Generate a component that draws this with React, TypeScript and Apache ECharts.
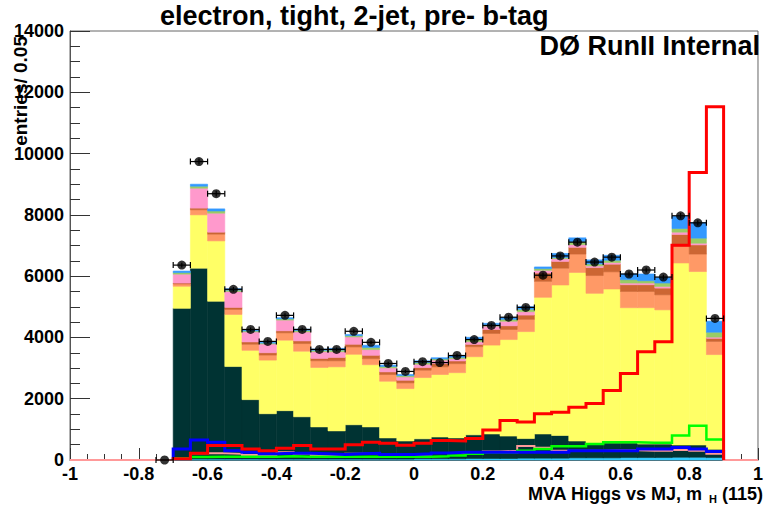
import React, { useEffect, useRef } from "react";
import * as echarts from "echarts";

// ---- histogram binning ----
const BIN_START = -0.7;
const BIN_WIDTH = 0.05;

// ---- stacked background components (per bin, 32 bins from -0.7 to 0.9) ----
const cyanBkg = [30, 30, 30, 30, 30, 30, 30, 30, 30, 30, 30, 30, 30, 30, 40, 40, 40, 50, 50, 50, 60, 60, 60, 70, 70, 70, 80, 80, 80, 90, 90, 80];
const tealBkg = [4920, 6230, 5150, 3020, 1940, 1480, 1580, 1380, 1050, 920, 1120, 1050, 690, 590, 650, 710, 680, 770, 800, 730, 640, 790, 740, 550, 450, 490, 480, 440, 440, 400, 400, 270];
const yellowBkg = [720, 1740, 1970, 1700, 1610, 1750, 2300, 2140, 1940, 2090, 2300, 2030, 1850, 1710, 2000, 2040, 2130, 2550, 2900, 3150, 3490, 4460, 4910, 5500, 4920, 5020, 4410, 4450, 4380, 5940, 5660, 3090];
const salmonBkg = [75, 165, 220, 165, 197, 164, 240, 250, 219, 197, 240, 197, 219, 186, 240, 250, 295, 328, 380, 330, 400, 520, 550, 600, 580, 560, 530, 530, 490, 550, 570, 430];
const brownBkg = [30, 55, 65, 65, 77, 77, 66, 87, 77, 110, 87, 110, 87, 87, 87, 110, 87, 77, 130, 120, 140, 270, 220, 220, 260, 250, 220, 220, 220, 380, 300, 100];
const pinkBkg = [290, 650, 620, 520, 328, 284, 350, 295, 219, 186, 240, 186, 131, 110, 110, 110, 77, 87, 110, 150, 110, 90, 90, 90, 55, 55, 55, 55, 55, 75, 55, 40];
const greenBkg = [50, 65, 70, 45, 30, 30, 40, 45, 45, 55, 40, 70, 45, 40, 55, 40, 45, 70, 45, 60, 80, 55, 40, 90, 65, 75, 110, 75, 110, 120, 165, 160];
const blueBkg = [50, 65, 70, 45, 25, 25, 37, 42, 42, 55, 37, 72, 42, 37, 55, 37, 42, 72, 45, 60, 85, 55, 130, 130, 130, 160, 185, 220, 185, 400, 510, 360];

// ---- overlaid (unstacked) histograms, same 32 bins ----
const redSignal = [40, 220, 470, 470, 360, 305, 380, 470, 360, 360, 500, 580, 550, 480, 550, 640, 620, 700, 980, 1290, 1240, 1510, 1560, 1720, 1840, 2270, 2820, 3530, 3860, 7010, 9380, 11530];
const blueLine = [360, 650, 580, 305, 250, 200, 220, 220, 200, 180, 200, 220, 180, 180, 200, 230, 250, 250, 250, 250, 250, 250, 250, 300, 300, 300, 300, 360, 360, 410, 360, 280];
const greenLine = [60, 100, 110, 110, 110, 110, 120, 110, 110, 110, 110, 110, 110, 110, 110, 120, 150, 200, 250, 250, 300, 360, 450, 450, 520, 580, 580, 560, 560, 800, 1120, 670];
const pinkLine = [60, 220, 220, 200, 160, 160, 250, 200, 160, 160, 200, 200, 160, 160, 180, 230, 220, 250, 280, 300, 460, 400, 300, 300, 300, 320, 320, 300, 300, 330, 300, 200];

// ---- data points (33 bins, starting at bin -0.75..-0.7) ----
const DATA_START = -0.75;
const dataVals = [0, 6360, 9740, 8690, 5570, 4260, 3870, 4720, 4260, 3610, 3610, 4200, 3840, 3150, 2890, 3210, 3180, 3410, 3930, 4390, 4660, 4980, 6030, 6660, 7110, 6460, 6620, 6070, 6200, 5970, 7970, 7740, 4620];

// ---- axis ticks ----
const xMin = -1, xMax = 1, xStep = 0.2;
const yMin = 0, yMax = 14000, yStep = 2000;

const FONT = '"Liberation Sans", Arial, Helvetica, sans-serif';

const layers = [
  { name: "cyan", color: "#33ccff", values: cyanBkg },
  { name: "teal", color: "#003333", values: tealBkg },
  { name: "yellow", color: "#ffff66", values: yellowBkg },
  { name: "salmon", color: "#ff9966", values: salmonBkg },
  { name: "brown", color: "#cc6633", values: brownBkg },
  { name: "pink", color: "#ff99cc", values: pinkBkg },
  { name: "green", color: "#99cc66", values: greenBkg },
  { name: "blue", color: "#3399ff", values: blueBkg },
];

function outline(vals: number[], extendFull: boolean) {
  const pts: number[][] = [];
  if (extendFull) pts.push([xMin, 0]);
  pts.push([BIN_START, 0]);
  vals.forEach((v, i) => {
    const x0 = BIN_START + i * BIN_WIDTH;
    pts.push([x0, v], [x0 + BIN_WIDTH, v]);
  });
  pts.push([BIN_START + vals.length * BIN_WIDTH, 0]);
  if (extendFull) pts.push([xMax, 0]);
  return pts;
}

export default function App() {
  const ref = useRef<HTMLDivElement>(null);
  useEffect(() => {
    document.body.style.margin = "0";
    if (!ref.current) return;
    const chart = echarts.init(ref.current, undefined, { renderer: "svg" });

    const cum = new Array(tealBkg.length).fill(0);
    const stackSeries = layers.map((l) => {
      const items = l.values.map((v, i) => {
        const x0 = BIN_START + i * BIN_WIDTH;
        const y0 = cum[i];
        const y1 = cum[i] + v;
        cum[i] = y1;
        return [x0, x0 + BIN_WIDTH, y0, y1];
      });
      return {
        type: "custom",
        name: l.name,
        z: 1,
        silent: true,
        encode: { x: [0, 1], y: [2, 3] },
        data: items,
        renderItem: (params: any, api: any) => {
          const p0 = api.coord([api.value(0), api.value(3)]);
          const p1 = api.coord([api.value(1), api.value(2)]);
          return {
            type: "rect",
            shape: { x: p0[0], y: p0[1], width: p1[0] - p0[0], height: p1[1] - p0[1] },
            style: { fill: l.color, stroke: l.color, lineWidth: 0.6 },
          };
        },
      };
    });

    const lineDefs = [
      { vals: pinkLine, color: "#ff9999", width: 2, full: true },
      { vals: greenLine, color: "#00ff00", width: 2.5, full: false },
      { vals: blueLine, color: "#0000ff", width: 3, full: false },
      { vals: redSignal, color: "#ff0000", width: 3, full: false },
    ];
    const lineSeries = lineDefs.map((d, k) => ({
      type: "line",
      z: 3 + k * 0.1,
      silent: true,
      symbol: "none",
      clip: false,
      data: outline(d.vals, d.full),
      lineStyle: { color: d.color, width: d.width, join: "miter" },
    }));

    const pts = dataVals.map((v, i) => [DATA_START + (i + 0.5) * BIN_WIDTH, v]);

    const option: any = {
      animation: false,
      grid: {
        left: 70,
        right: 3,
        top: 31,
        bottom: 46,
        show: true,
        borderColor: "#666",
        borderWidth: 1,
        backgroundColor: "transparent",
      },
      xAxis: {
        type: "value",
        min: xMin,
        max: xMax,
        interval: xStep,
        axisLine: { show: true, onZero: false, lineStyle: { color: "#555", width: 1 } },
        axisTick: { show: true, inside: true, length: 12, lineStyle: { color: "#333" } },
        minorTick: { show: true, splitNumber: 4, length: 6, lineStyle: { color: "#333" } },
        splitLine: { show: false },
        axisLabel: {
          show: true,
          margin: 5,
          lineHeight: 18,
          color: "#000",
          fontFamily: FONT,
          fontWeight: "bold",
          fontSize: 18,
          showMinLabel: true,
          showMaxLabel: true,
          hideOverlap: false,
          formatter: (v: number) => String(Number(v.toFixed(1))),
        },
      },
      yAxis: {
        type: "value",
        min: yMin,
        max: yMax,
        interval: yStep,
        axisLine: { show: true, onZero: false, lineStyle: { color: "#555", width: 1 } },
        axisTick: { show: true, inside: true, length: 20, lineStyle: { color: "#333" } },
        minorTick: { show: true, splitNumber: 4, length: 10, lineStyle: { color: "#333" } },
        splitLine: { show: false },
        axisLabel: {
          margin: 6,
          color: "#000",
          fontFamily: FONT,
          fontWeight: "bold",
          fontSize: 18,
          showMaxLabel: true,
          formatter: (v: number) => String(v),
        },
      },
      series: [
        ...stackSeries,
        ...lineSeries,
        {
          type: "custom",
          z: 5,
          silent: true,
          data: pts,
          encode: { x: 0, y: 1 },
          renderItem: (params: any, api: any) => {
            const x = api.value(0);
            const y = api.value(1);
            const l = api.coord([x - BIN_WIDTH / 2, y]);
            const r = api.coord([x + BIN_WIDTH / 2, y]);
            const err = Math.sqrt(Math.max(y, 0));
            const top = api.coord([x, y + err]);
            const bot = api.coord([x, Math.max(y - err, 0)]);
            const st = { stroke: "#000", lineWidth: 1.2 };
            return {
              type: "group",
              children: [
                { type: "line", shape: { x1: l[0], y1: l[1], x2: r[0], y2: r[1] }, style: st },
                { type: "line", shape: { x1: l[0], y1: l[1] - 3, x2: l[0], y2: l[1] + 3 }, style: st },
                { type: "line", shape: { x1: r[0], y1: r[1] - 3, x2: r[0], y2: r[1] + 3 }, style: st },
                { type: "line", shape: { x1: top[0], y1: top[1], x2: bot[0], y2: bot[1] }, style: st },
              ],
            };
          },
        },
        {
          type: "scatter",
          z: 6,
          silent: true,
          symbol: "circle",
          symbolSize: 9,
          itemStyle: { color: "#000" },
          data: pts,
        },
      ],
      graphic: [
        {
          type: "text",
          left: 160,
          top: 2,
          style: { text: "electron, tight, 2-jet, pre- b-tag", fontFamily: FONT, fontWeight: "bold", fontSize: 27, fill: "#000" },
        },
        {
          type: "text",
          right: 6,
          top: 32,
          style: { text: "DØ RunII Internal", fontFamily: FONT, fontWeight: "bold", fontSize: 27, fill: "#000" },
        },
        {
          type: "text",
          x: 20,
          y: 36,
          rotation: Math.PI / 2,
          style: {
            text: "entries/ 0.05",
            fontFamily: FONT,
            fontWeight: "bold",
            fontSize: 19,
            fill: "#000",
            align: "right",
            verticalAlign: "middle",
          },
        },
        {
          type: "text",
          x: 702,
          y: 494,
          style: { text: "MVA Higgs vs MJ, m", fontFamily: FONT, fontWeight: "bold", fontSize: 18, fill: "#000", align: "right", verticalAlign: "middle" },
        },
        {
          type: "text",
          x: 709,
          y: 499,
          style: { text: "H", fontFamily: FONT, fontWeight: "bold", fontSize: 11, fill: "#000", align: "left", verticalAlign: "middle" },
        },
        {
          type: "text",
          x: 763,
          y: 494,
          style: { text: "(115)", fontFamily: FONT, fontWeight: "bold", fontSize: 18, fill: "#000", align: "right", verticalAlign: "middle" },
        },
      ],
    };
    chart.setOption(option);
    return () => chart.dispose();
  }, []);
  return <div ref={ref} style={{ width: 766, height: 506, background: "#fff" }} />;
}
